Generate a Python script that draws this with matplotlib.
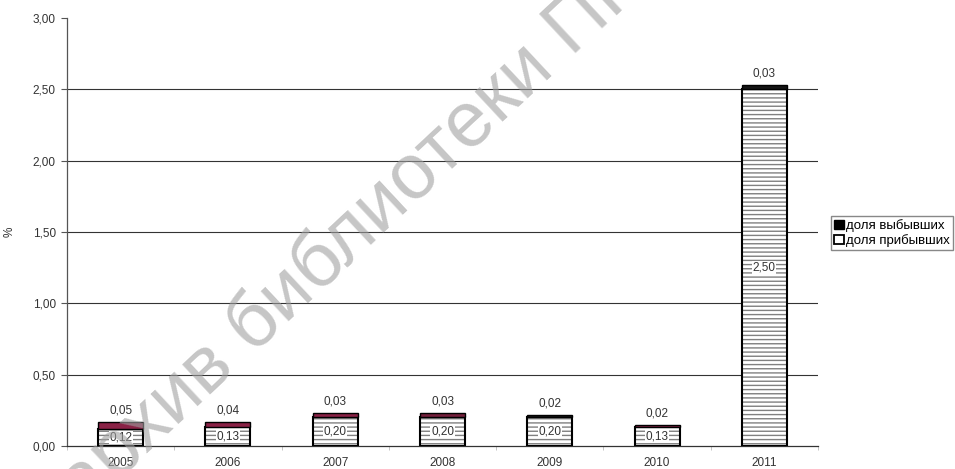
import matplotlib.pyplot as plt
from matplotlib.patches import Patch
from matplotlib.ticker import FuncFormatter, FixedLocator

plt.rcParams['font.family'] = ['Liberation Sans', 'DejaVu Sans']

years = ['2005', '2006', '2007', '2008', '2009', '2010', '2011']
arrived = [0.12, 0.13, 0.20, 0.20, 0.20, 0.13, 2.50]   # доля прибывших
departed = [0.05, 0.04, 0.03, 0.03, 0.02, 0.02, 0.03]  # доля выбывших
top_colors = ['#8a2246', '#8a2246', '#8a2246', '#74203c', '#151515', '#8a2246', '#151515']

def comma(v, pos=None):
    return f'{v:.2f}'.replace('.', ',')

fig = plt.figure(figsize=(9.55, 4.69), dpi=100)
ax = fig.add_axes([67 / 955, 23 / 469, 751 / 955, 428 / 469])

x = list(range(len(years)))
w = 0.42
fs = 8.5

# нижняя часть: штриховка + контур
ax.bar(x, arrived, w, color='white', edgecolor='#808080', hatch='----', linewidth=0, zorder=3)
ax.bar(x, arrived, w, fill=False, edgecolor='black', linewidth=1.5, zorder=4)
ax.bar(x, departed, w, bottom=arrived, color=top_colors, edgecolor='black', linewidth=1.0, zorder=4)

for i in x:
    ax.text(i, arrived[i] / 2, comma(arrived[i]), ha='center', va='center', fontsize=fs,
            color='#333333', zorder=5,
            bbox=dict(boxstyle='square,pad=0.05', facecolor='white', edgecolor='none'))
    ax.annotate(comma(departed[i]), (i, arrived[i] + departed[i]), xytext=(0, 4),
                textcoords='offset points', ha='center', va='bottom', fontsize=fs,
                color='#333333', zorder=5)

ax.set_xlim(-0.5, 6.5)
ax.set_ylim(0, 3.0)
ax.set_yticks([0, 0.5, 1.0, 1.5, 2.0, 2.5, 3.0])
ax.yaxis.set_major_formatter(FuncFormatter(comma))
ax.set_xticks(x)
ax.set_xticklabels(years)
ax.xaxis.set_minor_locator(FixedLocator([i + 0.5 for i in range(-1, 7)]))
ax.tick_params(axis='x', which='major', length=0, pad=8, labelsize=fs, labelcolor='#333333')
ax.tick_params(axis='x', which='minor', length=3, color='#bbbbbb')
ax.tick_params(axis='y', length=4, width=0.8, color='#555555', pad=4, labelsize=fs,
               labelcolor='#333333')

for v in [0.5, 1.0, 1.5, 2.0, 2.5]:
    ax.axhline(v, color='#333333', linewidth=0.8, zorder=1)

for s in ['top', 'right']:
    ax.spines[s].set_visible(False)
ax.spines['left'].set_color('#555555')
ax.spines['bottom'].set_color('#333333')
ax.spines['left'].set_linewidth(0.9)
ax.spines['bottom'].set_linewidth(0.9)

ax.set_ylabel('%', fontsize=fs, color='#333333')
ax.yaxis.set_label_coords(-0.069, 0.5)

handles = [Patch(facecolor='black', edgecolor='black'),
           Patch(facecolor='white', edgecolor='black', linewidth=1.3)]
fig.legend(handles, ['доля выбывших', 'доля прибывших'], loc='upper left',
           bbox_to_anchor=(831 / 955, 1 - 216 / 469), fontsize=9.5, frameon=True,
           fancybox=False, edgecolor='#888888', framealpha=1, borderaxespad=0,
           handlelength=0.7, handleheight=0.7, handletextpad=0.2, borderpad=0.25,
           labelspacing=0.15)

# водяной знак
fig.text(84 / 955, 1 - 512 / 469, 'архив библиотеки ПГУ', fontsize=56, color='#a0a0a0',
         alpha=0.6, rotation=43, rotation_mode='anchor', ha='left', va='baseline',
         zorder=10)

fig.savefig('out.png', dpi=100)
